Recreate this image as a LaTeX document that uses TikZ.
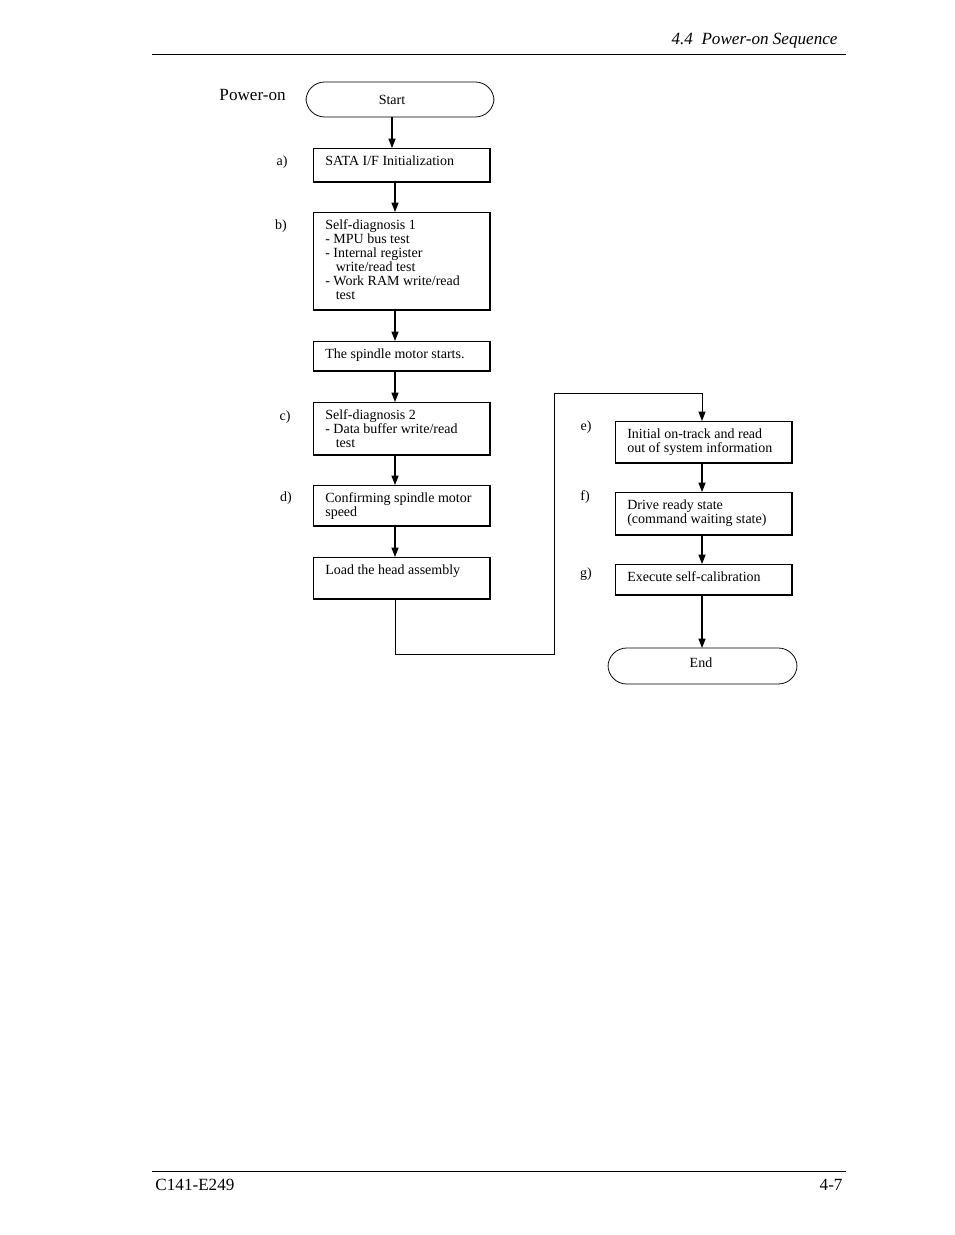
\documentclass[tikz,border=0pt]{standalone}
\usepackage{fontspec}
\setmainfont{Liberation Serif}
\usetikzlibrary{fit,arrows.meta}
\begin{document}
\begin{tikzpicture}[x=0.643pt,y=-0.643pt,
  box/.style={draw,line width=0.5pt,inner sep=0pt},
  txt/.style={font=\fontsize{9}{9}\selectfont,align=left,inner sep=0pt,anchor=north west},
  rbox/.style={draw,line width=0.5pt,inner sep=0pt,rounded corners=12pt},
  lbl/.style={font=\fontsize{9}{9}\selectfont},
  arr/.style={line width=0.8pt,-{Triangle[length=6pt,width=4.5pt]}}]
\useasboundingbox (0,0) rectangle (954,1235);
\newcommand{\mybox}[6]{%
  \node[box,fit={(#2,#3)(#4,#5)}] (#1) {};
  \node[txt] (#1t) at (#2+12,#3+7) {#6};
  \draw[line width=1.1pt] (#4,#3) -- (#4,#5) -- (#2,#5);}
% header/footer
\draw[line width=0.5pt] (152,54) -- (846,54);
\node[anchor=east,font=\fontsize{11}{11}\selectfont\itshape] (hdr) at (843,41) {4.4\ \ Power-on Sequence};
\draw[line width=0.5pt] (152,1171) -- (846,1171);
\node[anchor=west,font=\fontsize{11}{11}\selectfont] (ftl) at (150,1185) {C141-E249};
\node[anchor=east,font=\fontsize{11}{11}\selectfont] (ftr) at (848,1185) {4-7};
\node[anchor=west,font=\fontsize{11}{11}\selectfont] (pwr) at (214,95) {Power-on};
% terminals
\node[rbox,fit={(306,82)(494,117)}] (start) {};
\node[lbl] (startt) at (392,100) {Start};
\node[rbox,fit={(608,648)(797,684)}] (end) {};
\node[lbl] (endt) at (701,663) {End};
% boxes
\mybox{a}{313}{148}{490}{182}{SATA I/F Initialization}
\mybox{b}{313}{212}{490}{310}{Self-diagnosis 1\\- MPU bus test\\- Internal register\\\ \ \ write/read test\\- Work RAM write/read\\\ \ \ test}
\mybox{s}{313}{341}{490}{371}{The spindle motor starts.}
\mybox{c}{313}{402}{490}{455}{Self-diagnosis 2\\- Data buffer write/read\\\ \ \ test}
\mybox{d}{313}{485}{490}{526}{Confirming spindle motor\\speed}
\mybox{h}{313}{557}{490}{599}{Load the head assembly}
\mybox{e}{615}{421}{792}{463}{Initial on-track and read\\out of system information}
\mybox{f}{615}{492}{792}{535}{Drive ready state\\(command waiting state)}
\mybox{g}{615}{564}{792}{595}{Execute self-calibration}
% step labels
\node[lbl] (la) at (282,162) {a)};
\node[lbl] (lb) at (281,226) {b)};
\node[lbl] (lc) at (285,417) {c)};
\node[lbl] (ld) at (286,498) {d)};
\node[lbl] (le) at (586,427) {e)};
\node[lbl] (lf) at (585,497) {f)};
\node[lbl] (lg) at (586,574) {g)};
% arrows
\draw[arr] (392,117) -- (392,148);
\draw[arr] (395,182) -- (395,212);
\draw[arr] (395,310) -- (395,341);
\draw[arr] (395,371) -- (395,402);
\draw[arr] (395,455) -- (395,485);
\draw[arr] (395,526) -- (395,557);
\draw[arr,line width=0.5pt] (395,599) -- (395,654) -- (554,654) -- (554,393) -- (702,393) -- (702,421);
\draw[arr] (702,463) -- (702,492);
\draw[arr] (702,535) -- (702,564);
\draw[arr] (702,595) -- (702,648);
\end{tikzpicture}
\end{document}
